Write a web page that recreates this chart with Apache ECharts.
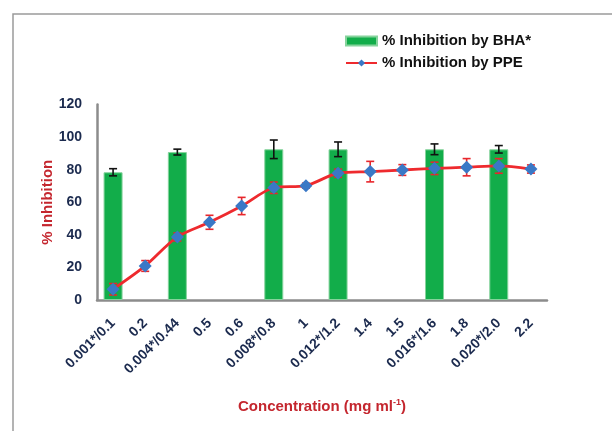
<!DOCTYPE html>
<html>
<head>
<meta charset="utf-8">
<script src="https://cdn.jsdelivr.net/npm/echarts@6/dist/echarts.min.js"></script>
<style>
html,body{margin:0;padding:0;background:#fff;}
#chart{width:612px;height:431px;}
</style>
</head>
<body>
<div id="chart"></div>
<script>
const categories = ['0.001*/0.1','0.2','0.004*/0.44','0.5','0.6','0.008*/0.8','1','0.012*/1.2','1.4','1.5','0.016*/1.6','1.8','0.020*/2.0','2.2'];
const bhaValues = [78.4, null, 90.8, null, null, 92.5, null, 92.5, null, null, 92.5, null, 92.5, null];
const bhaErrors = [2.2, null, 1.8, null, null, 5.7, null, 4.5, null, null, 3.3, null, 2.3, null];
const ppeValues = [6.6, 20.9, 38.7, 47.7, 57.7, 68.9, 70.2, 77.8, 78.8, 79.8, 80.8, 81.5, 82.3, 80.4];
const ppeErrors = [3.5, 3.3, 2.5, 4.3, 5.3, 3.5, 1.5, 2.5, 6.3, 3.3, 3.8, 5.3, 4.5, 2.5];
const yTicks = [0, 20, 40, 60, 80, 100, 120];

const navy = '#1b2a4e';
const red = '#c4262e';
const font = 'Liberation Sans, Arial, sans-serif';

function errData(vals, errs) {
  const out = [];
  vals.forEach((v, i) => { if (v !== null && errs[i] !== null) out.push([i, v, errs[i]]); });
  return out;
}
function errRender(color) {
  return function (params, api) {
    const x = api.value(0), v = api.value(1), e = api.value(2);
    const t = api.coord([x, v + e]);
    const b = api.coord([x, v - e]);
    const hw = 4;
    const st = { stroke: color, lineWidth: 1.6 };
    return {
      type: 'group',
      children: [
        { type: 'line', shape: { x1: t[0], y1: t[1], x2: b[0], y2: b[1] }, style: st },
        { type: 'line', shape: { x1: t[0] - hw, y1: t[1], x2: t[0] + hw, y2: t[1] }, style: st },
        { type: 'line', shape: { x1: b[0] - hw, y1: b[1], x2: b[0] + hw, y2: b[1] }, style: st }
      ]
    };
  };
}

const chart = echarts.init(document.getElementById('chart'), null, { renderer: 'canvas' });
chart.setOption({
  animation: false,
  backgroundColor: '#fff',
  textStyle: { fontFamily: font },
  graphic: [{
    type: 'rect', silent: true, z: -1,
    shape: { x: 13, y: 14, width: 800, height: 600 },
    style: { fill: 'none', stroke: '#9a9a9a', lineWidth: 1.5 }
  }],
  legend: {
    orient: 'vertical',
    left: 345, top: 33, padding: 0,
    itemWidth: 31, itemHeight: 9, itemGap: 6,
    data: [
      { name: '% Inhibition by BHA*', icon: 'rect' },
      { name: '% Inhibition by PPE' }
    ],
    textStyle: { fontFamily: font, fontWeight: 'bold', fontSize: 15, color: '#111', lineHeight: 16 }
  },
  grid: { left: 97, right: 65, top: 104.5, bottom: 131, containLabel: false },
  xAxis: {
    type: 'category',
    data: categories,
    boundaryGap: true,
    axisLine: { lineStyle: { color: '#8c8c8c', width: 2.5 } },
    axisTick: { show: false },
    axisLabel: { rotate: 45, interval: 0, margin: 21, color: navy, fontWeight: 'bold', fontSize: 14, fontFamily: font },
    name: 'Concentration (mg ml{sup|-1})',
    nameLocation: 'middle',
    nameGap: 98,
    nameMoveOverlap: false,
    nameTextStyle: {
      color: red, fontWeight: 'bold', fontSize: 15, fontFamily: font,
      rich: { sup: { color: red, fontWeight: 'bold', fontSize: 9, fontFamily: font, verticalAlign: 'top', padding: [0, 0, 8, 0] } }
    }
  },
  yAxis: {
    type: 'value',
    min: 0, max: 120, interval: 20,
    axisLine: { show: true, lineStyle: { color: '#8c8c8c', width: 2.5 } },
    axisTick: { show: false },
    splitLine: { show: false },
    axisLabel: {
      margin: 15, color: navy, fontWeight: 'bold', fontSize: 14, fontFamily: font,
      formatter: v => yTicks.includes(v) ? String(v) : ''
    },
    name: '% Inhibition',
    nameLocation: 'middle',
    nameGap: 42,
    nameMoveOverlap: false,
    nameTextStyle: { color: red, fontWeight: 'bold', fontSize: 15, fontFamily: font }
  },
  series: [
    {
      name: '% Inhibition by BHA*',
      type: 'bar',
      data: bhaValues.map(v => v === null ? '-' : v),
      barWidth: 19,
      itemStyle: { color: '#12ad4a', borderColor: '#86d39c', borderWidth: 1 },
      z: 2
    },
    {
      type: 'custom',
      renderItem: errRender('#111'),
      data: errData(bhaValues, bhaErrors),
      encode: { x: 0, y: 1 },
      z: 3, silent: true
    },
    {
      type: 'custom',
      renderItem: errRender('#e8262b'),
      data: errData(ppeValues, ppeErrors),
      encode: { x: 0, y: 1 },
      z: 4, silent: true
    },
    {
      name: '% Inhibition by PPE',
      type: 'line',
      data: ppeValues,
      smooth: 0.3,
      symbol: 'diamond',
      symbolSize: 13,
      lineStyle: { color: '#ee2a2e', width: 2.8 },
      itemStyle: { color: '#3a78c6' },
      z: 5
    }
  ]
});
</script>
</body>
</html>
